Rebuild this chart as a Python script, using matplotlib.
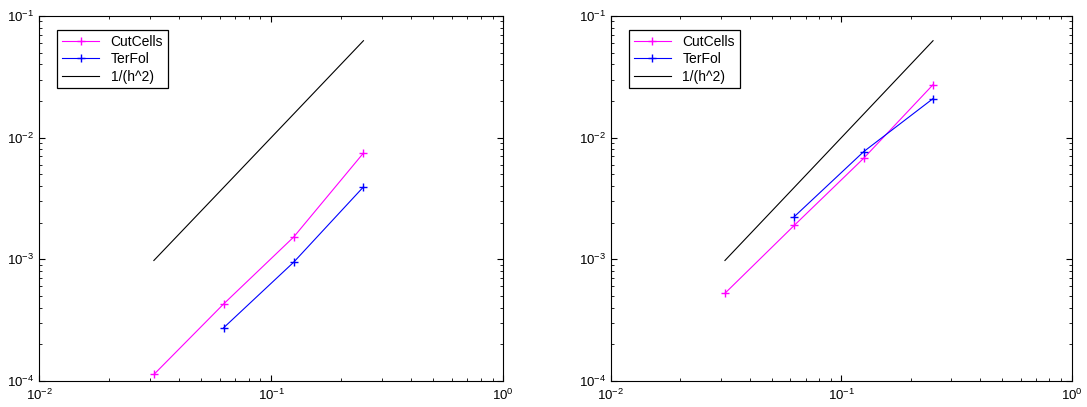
import matplotlib.pyplot as plt
from matplotlib.ticker import LogLocator, NullFormatter

plt.rcParams["font.family"] = ["Liberation Sans", "DejaVu Sans"]
plt.rcParams["mathtext.fontset"] = "custom"
plt.rcParams["mathtext.rm"] = "Liberation Sans"

h = [1 / 32, 1 / 16, 1 / 8, 1 / 4]
h_terfol = [1 / 16, 1 / 8, 1 / 4]
ref_h2 = [0.000977, 0.0039, 0.0156, 0.0625]

cutcells_left = [1.13e-4, 4.3e-4, 1.52e-3, 7.46e-3]
terfol_left = [2.74e-4, 9.44e-4, 3.93e-3]

cutcells_right = [5.25e-4, 1.9e-3, 6.76e-3, 2.72e-2]
terfol_right = [2.24e-3, 7.66e-3, 2.09e-2]

fig = plt.figure(figsize=(10.87, 4.07), dpi=100)
ax1 = fig.add_axes([0.0359, 0.064, 0.427, 0.897])
ax2 = fig.add_axes([0.562, 0.064, 0.424, 0.897])

for ax, cc, tf in [(ax1, cutcells_left, terfol_left), (ax2, cutcells_right, terfol_right)]:
    ax.loglog(h, cc, color=(1, 0, 1), marker="+", markersize=6, linewidth=0.8, label="CutCells")
    ax.loglog(h_terfol, tf, color=(0, 0, 1), marker="+", markersize=6, linewidth=0.8, label="TerFol")
    ax.loglog(h, ref_h2, color="black", linewidth=0.8, label="1/(h^2)")
    ax.set_xlim(1e-2, 1)
    ax.set_ylim(1e-4, 1e-1)
    ax.tick_params(which="both", direction="in", top=True, right=True, labelsize=9.5)
    ax.tick_params(which="major", length=4)
    ax.tick_params(which="minor", length=2)
    ax.tick_params(axis="x", which="major", pad=5)
    ax.xaxis.set_minor_locator(LogLocator(base=10, subs=range(2, 10)))
    ax.yaxis.set_minor_locator(LogLocator(base=10, subs=range(2, 10)))
    ax.xaxis.set_minor_formatter(NullFormatter())
    ax.yaxis.set_minor_formatter(NullFormatter())
    leg = ax.legend(loc="upper left", bbox_to_anchor=(0.039, 0.962), borderaxespad=0,
                    fontsize=10, fancybox=False, edgecolor="black", framealpha=1,
                    handlelength=2.7, borderpad=0.35, labelspacing=0.25)
    leg.get_frame().set_linewidth(0.9)

fig.savefig("out.png", dpi=100)
